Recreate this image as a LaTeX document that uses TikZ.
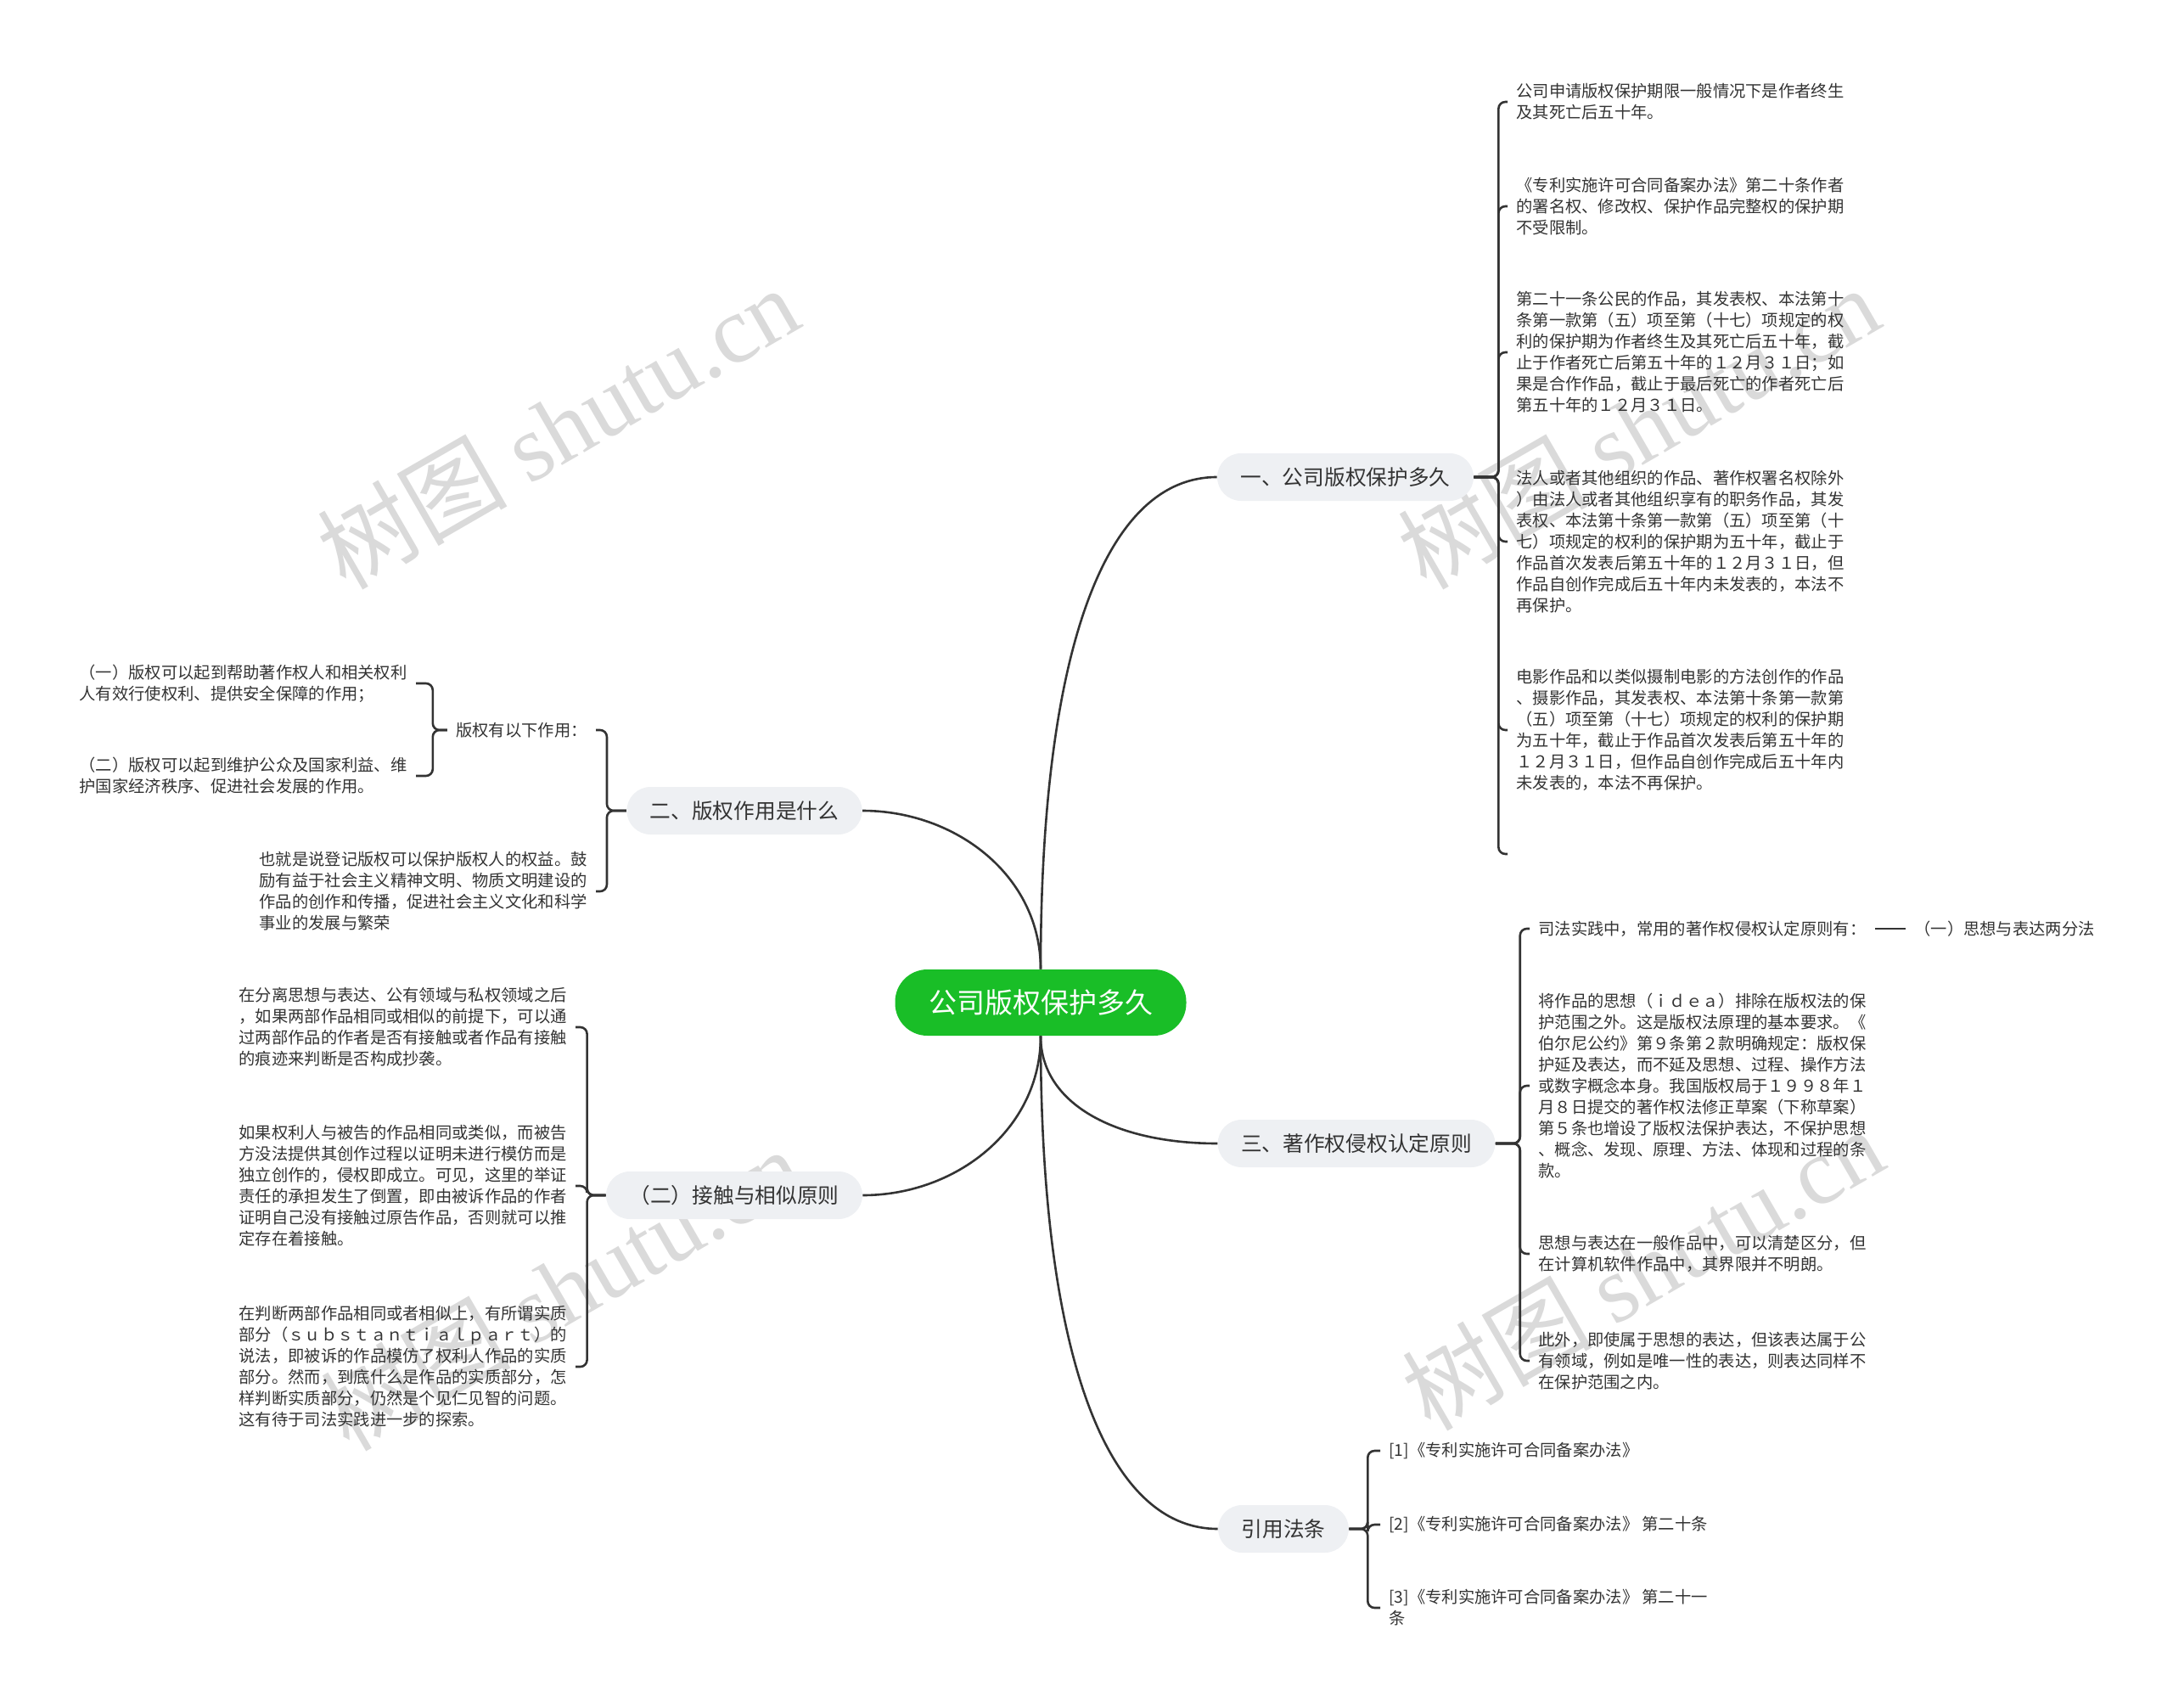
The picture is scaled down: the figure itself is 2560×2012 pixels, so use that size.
\documentclass[tikz,border=0pt]{standalone}
\usepackage{fontspec}
\setmainfont{Noto Sans CJK SC}
\newfontfamily\wmfont{Liberation Serif}

\definecolor{rootgreen}{HTML}{19BE27}
\definecolor{pillgray}{HTML}{EEF0F3}
\definecolor{ink}{HTML}{333333}
\definecolor{wmgray}{HTML}{DADADA}

\begin{document}
\begin{tikzpicture}[x=0.5pt, y=-0.5pt,
    root/.style={fill=rootgreen, text=white, rounded corners=19pt, minimum height=39pt, inner xsep=19.75pt, inner ysep=0pt, font=\fontsize{16.5}{20}\selectfont},
    topic/.style={fill=pillgray, text=ink, rounded corners=14pt, minimum height=28pt, inner xsep=13.75pt, inner ysep=0pt, font=\fontsize{12.35}{15}\selectfont},
    leaf/.style={text=ink, align=left, inner xsep=5pt, inner ysep=0pt, font=\fontsize{9.65}{12.5}\selectfont},
    link/.style={draw=ink, line width=1.3pt},
    brace/.style={link, rounded corners=4pt},
    wm/.style={text=wmgray, rotate=30, font=\fontsize{56}{60}\selectfont}]
    \useasboundingbox (0,0) rectangle (2560,2012);
    % watermarks
    \node[wm] (wm1) at (657,503) {树图 {\wmfont shutu.cn}};
    \node[wm] (wm2) at (1930,503) {树图 {\wmfont shutu.cn}};
    \node[wm] (wm3) at (661,1518) {树图 {\wmfont shutu.cn}};
    \node[wm] (wm4) at (1935,1494) {树图 {\wmfont shutu.cn}};
    % main nodes
    \node[root] (root) at (1226,1181) {公司版权保护多久};
    \node[topic] (dur) at (1585,562) {一、公司版权保护多久};
    \node[topic] (use) at (877,955) {二、版权作用是什么};
    \node[topic] (rule) at (1598,1347) {三、著作权侵权认定原则};
    \node[topic] (law) at (1512,1801) {引用法条};
    \node[topic] (sim) at (865,1408) {（二）接触与相似原则};
    % right side, first branch
    \node[leaf, anchor=west] (dur1) at (1776,120) {公司申请版权保护期限一般情况下是作者终生\\及其死亡后五十年。};
    \node[leaf, anchor=west] (dur2) at (1776,243) {《专利实施许可合同备案办法》第二十条作者\\的署名权、修改权、保护作品完整权的保护期\\不受限制。};
    \node[leaf, anchor=west] (dur3) at (1776,415) {第二十一条公民的作品，其发表权、本法第十\\条第一款第（五）项至第（十七）项规定的权\\利的保护期为作者终生及其死亡后五十年，截\\止于作者死亡后第五十年的１２月３１日；如\\果是合作作品，截止于最后死亡的作者死亡后\\第五十年的１２月３１日。};
    \node[leaf, anchor=west] (dur4) at (1776,638) {法人或者其他组织的作品、著作权署名权除外\\）由法人或者其他组织享有的职务作品，其发\\表权、本法第十条第一款第（五）项至第（十\\七）项规定的权利的保护期为五十年，截止于\\作品首次发表后第五十年的１２月３１日，但\\作品自创作完成后五十年内未发表的，本法不\\再保护。};
    \node[leaf, anchor=west] (dur5) at (1776,860) {电影作品和以类似摄制电影的方法创作的作品\\、摄影作品，其发表权、本法第十条第一款第\\（五）项至第（十七）项规定的权利的保护期\\为五十年，截止于作品首次发表后第五十年的\\１２月３１日，但作品自创作完成后五十年内\\未发表的，本法不再保护。};
    \coordinate (dur6) at (1776,1006);
    % right side, third branch
    \node[leaf, anchor=west] (rule1) at (1802,1094) {司法实践中，常用的著作权侵权认定原则有：};
    \node[leaf, anchor=west] (split) at (2245,1094) {（一）思想与表达两分法};
    \node[leaf, anchor=west] (rule2) at (1802,1279) {将作品的思想（ｉｄｅａ）排除在版权法的保\\护范围之外。这是版权法原理的基本要求。《\\伯尔尼公约》第９条第２款明确规定：版权保\\护延及表达，而不延及思想、过程、操作方法\\或数字概念本身。我国版权局于１９９８年１\\月８日提交的著作权法修正草案（下称草案）\\第５条也增设了版权法保护表达，不保护思想\\、概念、发现、原理、方法、体现和过程的条\\款。};
    \node[leaf, anchor=west] (rule3) at (1802,1477) {思想与表达在一般作品中，可以清楚区分，但\\在计算机软件作品中，其界限并不明朗。};
    \node[leaf, anchor=west] (rule4) at (1802,1603) {此外，即使属于思想的表达，但该表达属于公\\有领域，例如是唯一性的表达，则表达同样不\\在保护范围之内。};
    % right side, references
    \node[leaf, anchor=west] (law1) at (1626,1709) {[1]《专利实施许可合同备案办法》};
    \node[leaf, anchor=west] (law2) at (1626,1796) {[2]《专利实施许可合同备案办法》 第二十条};
    \node[leaf, anchor=west] (law3) at (1626,1894) {[3]《专利实施许可合同备案办法》 第二十一\\条};
    % left side, second branch
    \node[leaf, anchor=east] (use0) at (702,860) {版权有以下作用：};
    \node[leaf, anchor=east] (use1) at (490,805) {（一）版权可以起到帮助著作权人和相关权利\\人有效行使权利、提供安全保障的作用；};
    \node[leaf, anchor=east] (use2) at (490,914) {（二）版权可以起到维护公众及国家利益、维\\护国家经济秩序、促进社会发展的作用。};
    \node[leaf, anchor=east] (use3) at (702,1050) {也就是说登记版权可以保护版权人的权益。鼓\\励有益于社会主义精神文明、物质文明建设的\\作品的创作和传播，促进社会主义文化和科学\\事业的发展与繁荣};
    % left side, contact branch
    \node[leaf, anchor=east] (sim1) at (678,1210) {在分离思想与表达、公有领域与私权领域之后\\，如果两部作品相同或相似的前提下，可以通\\过两部作品的作者是否有接触或者作品有接触\\的痕迹来判断是否构成抄袭。};
    \node[leaf, anchor=east] (sim2) at (678,1397) {如果权利人与被告的作品相同或类似，而被告\\方没法提供其创作过程以证明未进行模仿而是\\独立创作的，侵权即成立。可见，这里的举证\\责任的承担发生了倒置，即由被诉作品的作者\\证明自己没有接触过原告作品，否则就可以推\\定存在着接触。};
    \node[leaf, anchor=east] (sim3) at (678,1610) {在判断两部作品相同或者相似上，有所谓实质\\部分（ｓｕｂｓｔａｎｔｉａｌｐａｒｔ）的\\说法，即被诉的作品模仿了权利人作品的实质\\部分。然而，到底什么是作品的实质部分，怎\\样判断实质部分，仍然是个见仁见智的问题。\\这有待于司法实践进一步的探索。};
    % root to topics
    \draw[link] (root.north) .. controls +(0,-380) and +(-130,0) .. (dur.west);
    \draw[link] (root.north) .. controls +(0,-110) and +(110,0) .. (use.east);
    \draw[link] (root.south) .. controls +(0,80) and +(-120,0) .. (rule.west);
    \draw[link] (root.south) .. controls +(0,380) and +(-130,0) .. (law.west);
    \draw[link] (root.south) .. controls +(0,110) and +(110,0) .. (sim.east);
    % topics to leaves
    \draw[brace] (dur.east) -- ++(29,0) |- (dur1.west);
    \draw[brace] (dur.east) -- ++(29,0) |- (dur2.west);
    \draw[brace] (dur.east) -- ++(29,0) |- (dur3.west);
    \draw[brace] (dur.east) -- ++(29,0) |- (dur4.west);
    \draw[brace] (dur.east) -- ++(29,0) |- (dur5.west);
    \draw[brace] (dur.east) -- ++(29,0) |- (dur6);
    \draw[brace] (rule.east) -- ++(29,0) |- (rule1.west);
    \draw[brace] (rule.east) -- ++(29,0) |- (rule2.west);
    \draw[brace] (rule.east) -- ++(29,0) |- (rule3.west);
    \draw[brace] (rule.east) -- ++(29,0) |- (rule4.west);
    \draw[link] (rule1.east) -- (split.west);
    \draw[brace] (law.east) -- ++(22,0) |- (law1.west);
    \draw[brace] (law.east) -- ++(22,0) |- (law2.west);
    \draw[brace] (law.east) -- ++(22,0) |- (law3.west);
    \draw[brace] (use.west) -- ++(-23,0) |- (use0.east);
    \draw[brace] (use.west) -- ++(-23,0) |- (use3.east);
    \draw[brace] (use0.west) -- ++(-17,0) |- (use1.east);
    \draw[brace] (use0.west) -- ++(-17,0) |- (use2.east);
    \draw[brace] (sim.west) -- ++(-22,0) |- (sim1.east);
    \draw[brace] (sim.west) -- ++(-22,0) |- (sim2.east);
    \draw[brace] (sim.west) -- ++(-22,0) |- (sim3.east);
\end{tikzpicture}
\end{document}
